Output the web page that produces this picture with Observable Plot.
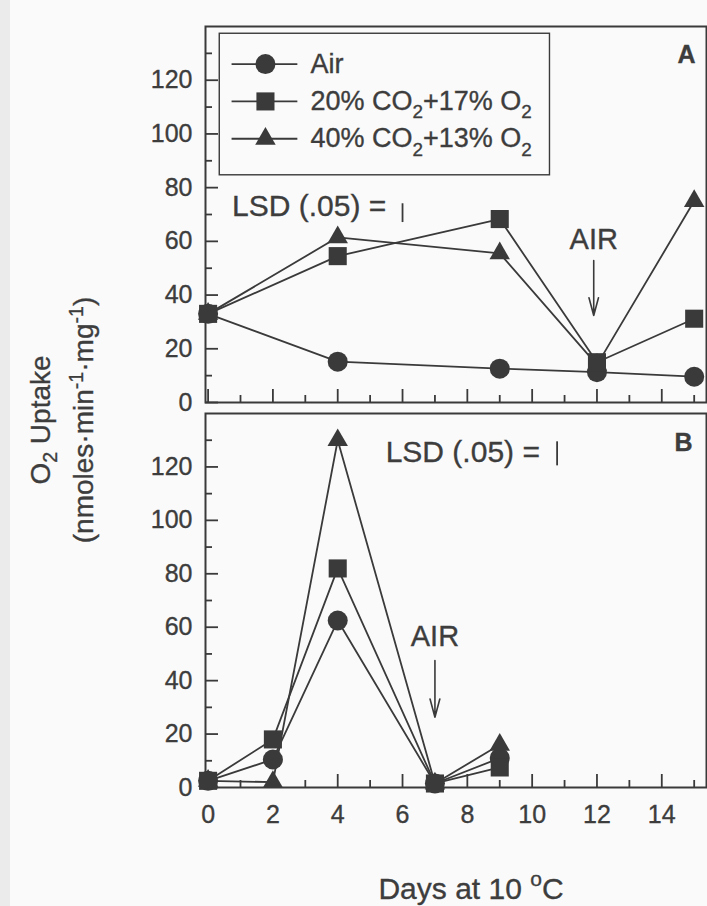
<!DOCTYPE html>
<html>
<head>
<meta charset="utf-8">
<script src="https://cdn.jsdelivr.net/npm/d3@7"></script>
<script src="https://cdn.jsdelivr.net/npm/@observablehq/plot@0.6"></script>
<style>
html,body{margin:0;padding:0;background:#fafafa;}
#chart{position:relative;width:707px;height:906px;overflow:hidden;background:#fafafa;font-family:"Liberation Sans",Arial,Helvetica,sans-serif;color:#3d3d3d;}
#strip{position:absolute;left:0;top:0;width:10px;height:906px;background:#ebebeb;}
#panelA,#panelB{position:absolute;left:0;}
#panelA{top:0;}
#panelB{top:402px;}
#ylabel{position:absolute;width:340px;height:86px;left:-108px;top:377px;transform:rotate(-90deg);text-align:center;font-size:28px;line-height:43px;white-space:nowrap;-webkit-text-stroke:0.35px #3d3d3d;}
#ylabel sub,#ylabel sup{font-size:70%;line-height:0;}
#chart svg text{stroke:#3d3d3d;stroke-width:0.35px;}
</style>
</head>
<body>
<div id="chart">
  <div id="strip"></div>
  <div id="panelA"></div>
  <div id="panelB"></div>
  <div id="ylabel">O<sub>2</sub> Uptake<br>(nmoles·min<sup>-1</sup>·mg<sup>-1</sup>)</div>
</div>
<script>
// ---------- data ----------
const series = ["Air", "20% CO2+17% O2", "40% CO2+13% O2"];
const seriesLabels = ["Air", "20% CO_2+17% O_2", "40% CO_2+13% O_2"];
const symbols = ["circle", "square", "triangle"];

// Panel A
const daysA = [0, 4, 9, 12, 15];
const airA = [33, 15.2, 12.6, 11.3, 9.6];
const co2_20A = [33, 54.5, 68.3, 15, 31.2];
const co2_40A = [33, 61.5, 55.5, 14, 75];
const lsdA = 7;

// Panel B
const daysB = [0, 2, 4, 7, 9];
const airB = [2.5, 10.5, 62.5, 1.5, 11];
const co2_20B = [2.5, 18, 82, 1.5, 7.5];
const co2_40B = [2.5, 2, 130, 1.5, 16];
const lsdB = 9;

// ticks
const yTickLabels = [0, 20, 40, 60, 80, 100, 120];
const yMinorTicks = [10, 30, 50, 70, 90, 110, 130];
const xTickLabels = [0, 2, 4, 6, 8, 10, 12, 14];
const xMinorTicks = [1, 3, 5, 7, 9, 11, 13, 15];

// ---------- styles / layout ----------
const ink = "#3a3a3a";
const textInk = "#3d3d3d";
const symbolR = [10, 10.2, 7.6];
const drawOrder = [0, 2, 1]; // circle, triangle, square
const W = 707, ML = 205, MR = 1;
const innerW = W - ML - MR;
const xDomain = [-0.08, 15.38];
const yDomain = [0, 140];

const tidy = (days, cols) => cols.flatMap((vals, s) =>
  vals.map((v, i) => ({day: days[i], value: v, series: series[s]})));
const dataA = tidy(daysA, [airA, co2_20A, co2_40A]);
const dataB = tidy(daysB, [airB, co2_20B, co2_40B]);

function panel(o) {
  const innerH = o.height - o.marginTop - o.marginBottom;
  const data = o.data;
  const marks = [
    Plot.frame({stroke: ink, strokeWidth: 2}),
    Plot.axisY(yTickLabels, {tickSize: 0, tickPadding: 13, fontSize: 25, label: null}),
    Plot.tickY(yTickLabels, {y: d => d, insetRight: innerW - 13, stroke: ink, strokeWidth: 1.8}),
    Plot.tickY(yMinorTicks, {y: d => d, insetRight: innerW - 7, stroke: ink, strokeWidth: 1.8}),
    Plot.tickX(xTickLabels, {x: d => d, insetTop: innerH - 13, stroke: ink, strokeWidth: 1.8}),
    Plot.tickX(xMinorTicks, {x: d => d, insetTop: innerH - 7, stroke: ink, strokeWidth: 1.8}),
    Plot.line(data, {x: "day", y: "value", z: "series", stroke: ink, strokeWidth: 1.8}),
    ...drawOrder.map(i => Plot.dot(data.filter(d => d.series === series[i]), {
      x: "day", y: "value", symbol: symbols[i], r: symbolR[i], fill: ink, stroke: "none"
    })),
    // LSD annotation
    Plot.text(["LSD (.05) ="], {x: () => o.lsd.textX, y: () => o.lsd.textY, text: d => d,
      textAnchor: "start", lineAnchor: "bottom", fontSize: 30}),
    Plot.ruleX([o.lsd.value], {x: () => o.lsd.barX, y1: d => o.lsd.barY - d / 2, y2: d => o.lsd.barY + d / 2,
      stroke: ink, strokeWidth: 1.8}),
    // AIR arrow
    Plot.text(["AIR"], {x: () => o.air.x, y: () => o.air.textY, text: d => d,
      textAnchor: "middle", lineAnchor: "bottom", fontSize: 29}),
    Plot.arrow([o.air], {x1: "x", x2: "x", y1: "y1", y2: "y2", stroke: ink, strokeWidth: 1.6,
      headLength: 28, headAngle: 30}),
    // panel letter
    Plot.text([o.letter], {frameAnchor: "top-right", dx: o.letterDx, dy: o.letterDy, text: d => d,
      lineAnchor: "top", textAnchor: "end", fontSize: 25, fontWeight: "bold"}),
    ...(o.extra || [])
  ];
  return Plot.plot({
    width: W, height: o.height,
    marginLeft: ML, marginRight: MR, marginTop: o.marginTop, marginBottom: o.marginBottom,
    x: {domain: xDomain, axis: null},
    y: {domain: yDomain, axis: null},
    style: {fontFamily: '"Liberation Sans", Arial, Helvetica, sans-serif', color: textInk, background: "transparent", overflow: "visible"},
    marks
  });
}

// legend (panel A)
const L = {x1: 0.36, x2: 10.55, y1: 84.6, y2: 137.3, lineX1: 0.74, lineX2: 2.77, markX: 1.77, textX: 3.16, rowTop: 126, rowStep: 13.9};
const legendRows = series.map((s, i) => ({series: s, label: seriesLabels[i], i, y: L.rowTop - i * L.rowStep}));
const legendMarks = [
  Plot.rect([L], {x1: "x1", x2: "x2", y1: "y1", y2: "y2", fill: "none", stroke: ink, strokeWidth: 1.4}),
  Plot.ruleY(legendRows, {y: "y", x1: () => L.lineX1, x2: () => L.lineX2, stroke: ink, strokeWidth: 1.8}),
  ...legendRows.map(row => Plot.dot([row], {x: () => L.markX, y: "y", symbol: symbols[row.i], r: symbolR[row.i], fill: ink, stroke: "none"})),
  Plot.text(legendRows, {x: () => L.textX, y: "y", text: "label", textAnchor: "start", lineAnchor: "middle", fontSize: 27})
];

const plotA = panel({
  data: dataA, height: 404, marginTop: 26, marginBottom: 2,
  lsd: {value: lsdA, textX: 0.74, textY: 69.6, barX: 6.0, barY: 70.5},
  air: {x: 11.9, textY: 57, y1: 52.9, y2: 32.4},
  letter: "A", letterDx: -11, letterDy: 19,
  extra: legendMarks
});

const plotB = panel({
  data: dataB, height: 504, marginTop: 11, marginBottom: 119,
  lsd: {value: lsdB, textX: 5.48, textY: 121.8, barX: 10.77, barY: 124.9},
  air: {x: 7.0, textY: 52.8, y1: 47.5, y2: 26.3},
  letter: "B", letterDx: -14, letterDy: 20,
  extra: [
    Plot.axisX(xTickLabels, {tickSize: 0, tickPadding: 18, fontSize: 25, label: null}),
    Plot.text(["Days at 10 ^oC"], {frameAnchor: "bottom", dx: 15, dy: 111, text: d => d, lineAnchor: "bottom", fontSize: 30})
  ]
});

document.getElementById("panelA").appendChild(plotA);
document.getElementById("panelB").appendChild(plotB);

// convert _x / ^x markup to sub/superscript tspans
function richify(svg) {
  const re = /([_^])(\{[^}]*\}|.)/g;
  svg.querySelectorAll("text").forEach(t => {
    const s = t.textContent;
    if (!/[_^]/.test(s)) return;
    const fs = parseFloat(getComputedStyle(t).fontSize) || 25;
    const parts = [];
    let last = 0, m;
    re.lastIndex = 0;
    while ((m = re.exec(s))) {
      if (m.index > last) parts.push({t: s.slice(last, m.index), k: 0});
      parts.push({t: m[2].replace(/^\{|\}$/g, ""), k: m[1] === "_" ? 1 : -1});
      last = m.index + m[0].length;
    }
    if (last < s.length) parts.push({t: s.slice(last), k: 0});
    while (t.firstChild) t.removeChild(t.firstChild);
    let cur = 0;
    for (const p of parts) {
      const ts = document.createElementNS("http://www.w3.org/2000/svg", "tspan");
      const target = p.k === 1 ? 0.3 * fs : p.k === -1 ? -0.42 * fs : 0;
      ts.setAttribute("dy", (target - cur).toFixed(2));
      cur = target;
      if (p.k) ts.setAttribute("font-size", (0.7 * fs).toFixed(1));
      ts.textContent = p.t;
      t.appendChild(ts);
    }
  });
}
richify(plotA);
richify(plotB);
</script>
</body>
</html>
